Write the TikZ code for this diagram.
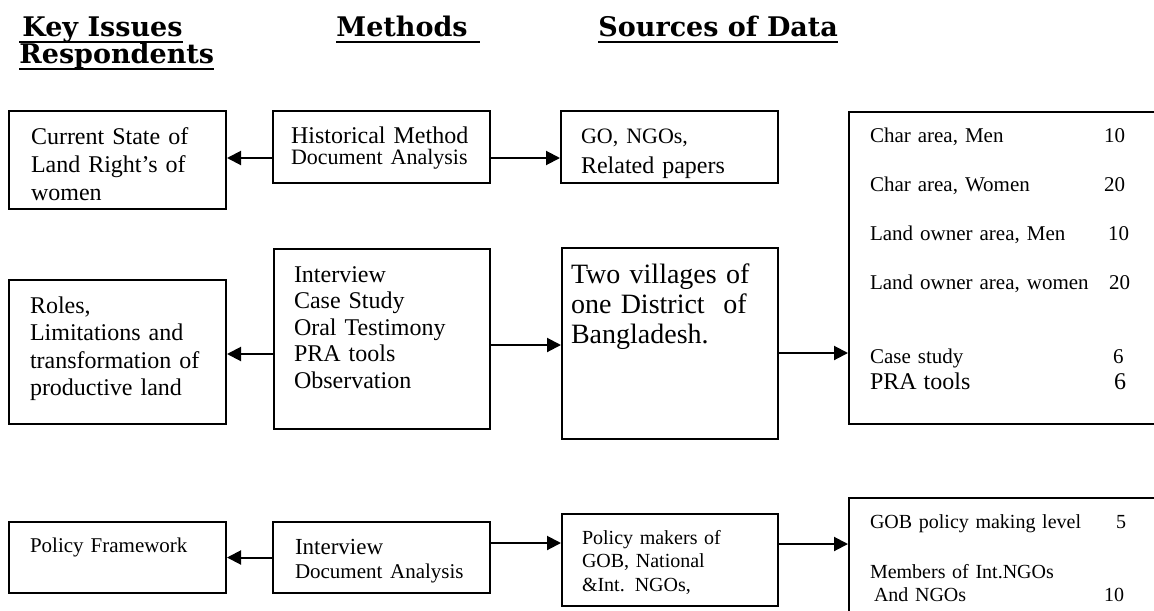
\documentclass[tikz,border=0pt]{standalone}
\usepackage{fontspec}
\setmainfont{Liberation Serif}
\newfontfamily\headfont{DejaVu Serif}
\usetikzlibrary{arrows.meta}
\newcommand{\uhead}[1]{\setbox0\hbox{#1}\rlap{\rule[-2.8pt]{\wd0}{1pt}}\box0}
\tikzstyle{block} =
        [
                rectangle,
                draw,
                line width = 1pt,
                anchor = north west,
                inner ysep = 0pt,
                align = left
        ]
\tikzstyle{heading} =
        [
                anchor = base west,
                inner sep = 0pt,
                font = \headfont\bfseries\fontsize{13.5}{15}\selectfont
        ]
\tikzstyle{line} =
        [
                draw,
                line width = 1pt,
                -{Triangle[length = 7pt, width = 7pt]}
        ]

\begin{document}
\begin{tikzpicture}[x = 0.5pt, y = -0.5pt]
        \useasboundingbox (0,0) rectangle (1154,610);
        \node [heading] (hkey) at (19,37) {\uhead{\hspace{1.5pt}Key Issues}};
        \node [heading] (hmeth) at (336,37) {\uhead{Methods\hspace{6pt}}};
        \node [heading] (hsrc) at (598,37) {\uhead{Sources of Data}};
        \node [heading] (hresp) at (19,64) {\uhead{Respondents}};

        \node [block, inner xsep = 11pt, text width = 86.5pt, text height = 16.5pt, text depth = 32.5pt, font = \fontsize{12}{14}\selectfont] (state) at (8,110) {Current State of\\Land Right's of\\women};
        \node [block, inner xsep = 9pt, text width = 90.5pt, text height = 16pt, text depth = 20pt, font = \fontsize{12}{10.5}\selectfont] (hist) at (272,110) {Historical Method\\{\fontsize{11}{10.5}\selectfont Document Analysis}};
        \node [block, inner xsep = 10pt, text width = 88.5pt, text height = 16pt, text depth = 20pt, font = \fontsize{12}{15}\selectfont] (go) at (560,110) {{\fontsize{11}{15}\selectfont GO, NGOs,}\\Related papers};
        \node [block, inner xsep = 10.5pt, text width = 136pt, text height = 15pt, text depth = 141pt, font = \fontsize{10.5}{24.5}\selectfont] (resp1) at (848,111) {\makebox[117pt][l]{Char area, Men}10\\\makebox[117pt][l]{Char area, Women}20\\\makebox[119pt][l]{Land owner area, Men}10\\\makebox[119.5pt][l]{Land owner area, women}20\\[12.5pt]\makebox[121.5pt][l]{Case study}6\\[-11.5pt]{\fontsize{12}{24.5}\selectfont\makebox[122pt][l]{PRA tools}6}};

        \node [block, inner xsep = 10.5pt, text width = 87.5pt, text height = 16.5pt, text depth = 55.5pt, font = \fontsize{12}{13.75}\selectfont] (roles) at (8,279) {Roles,\\Limitations and\\transformation of\\productive land};
        \node [block, inner xsep = 10pt, text width = 88pt, text height = 16.5pt, text depth = 73.5pt, font = \fontsize{12}{13.25}\selectfont] (mtwo) at (273,248) {Interview\\Case Study\\Oral Testimony\\PRA tools\\Observation};
        \node [block, inner xsep = 4.5pt, text width = 99pt, text height = 17.5pt, text depth = 78pt, font = \fontsize{14}{15}\selectfont] (villages) at (561,247) {Two villages of\\one District\ \ of\\Bangladesh.};

        \node [block, inner xsep = 10.5pt, text width = 87.5pt, text height = 15pt, text depth = 20.5pt, font = \fontsize{10.5}{12}\selectfont] (pframe) at (8,521) {Policy Framework};
        \node [block, inner xsep = 11pt, text width = 86.5pt, text height = 16pt, text depth = 19.5pt, font = \fontsize{11.5}{12}\selectfont] (mthree) at (272,521) {Interview\\{\fontsize{10.5}{12}\selectfont Document Analysis}};
        \node [block, inner xsep = 10pt, text width = 88pt, text height = 15pt, text depth = 31pt, font = \fontsize{10}{11.75}\selectfont] (pmakers) at (561,513) {Policy makers of\\GOB, National\\\&Int. NGOs,};
        \node [block, inner xsep = 10.5pt, text width = 136pt, text height = 15pt, text depth = 60pt, font = \fontsize{10}{25}\selectfont] (resp2) at (848,497) {\makebox[123pt][l]{GOB policy making level}5\\Members of Int.NGOs\\[-13.5pt]\makebox[117pt][l]{\hspace{2pt}And NGOs}10};

        \path [line] ([yshift = -5.5pt]hist.west) -- ([yshift = -5.5pt]hist.west -| state.east);
        \path [line] ([yshift = -5.5pt]hist.east) -- ([yshift = -5.5pt]hist.east -| go.west);
        \path [line] ([yshift = -7.5pt]mtwo.west) -- ([yshift = -7.5pt]mtwo.west -| roles.east);
        \path [line] ([yshift = -3pt]mtwo.east) -- ([yshift = -3pt]mtwo.east -| villages.west);
        \path [line] ([yshift = -4.75pt]villages.east) -- ([yshift = -4.75pt]villages.east -| resp1.west);
        \path [line] (mthree.west) -- (mthree.west -| pframe.east);
        \path [line] ([yshift = 7.25pt]mthree.east) -- ([yshift = 7.25pt]mthree.east -| pmakers.west);
        \path [line] ([yshift = 8pt]pmakers.east) -- ([yshift = 8pt]pmakers.east -| resp2.west);
\end{tikzpicture}
\end{document}
